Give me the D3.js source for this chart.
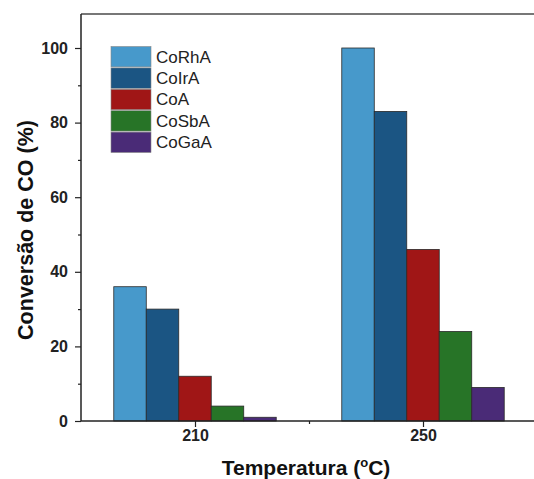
<!DOCTYPE html>
<html>
<head>
<meta charset="utf-8">
<script src="https://cdn.jsdelivr.net/npm/d3@7"></script>
<style>
  body { margin: 0; background: #fff; }
  svg { display: block; font-family: "Liberation Sans", Arial, sans-serif; }
</style>
</head>
<body>
<svg id="chart" width="534" height="479"></svg>
<script>
// Data
const temperatures = [210, 250];
const catalysts = ["CoRhA", "CoIrA", "CoA", "CoSbA", "CoGaA"];
const conv210 = [36, 30, 12, 4, 1];
const conv250 = [100, 83, 46, 24, 9];
const colors = ["#4799cb", "#1b5583", "#a01616", "#277427", "#4a2b77"];
const yTicks = [0, 20, 40, 60, 80, 100];

const seriesByTemp = [conv210, conv250];

const svg = d3.select("#chart");

// scales (linear x, like the original Origin plot)
const xScale = d3.scaleLinear().domain([210, 250]).range([195, 423]);
const yScale = d3.scaleLinear().domain([0, 100]).range([421, 48]);

const plotLeft = 81, plotBottom = 421, plotTop = yScale(109.1), plotRight = 545;
const barW = xScale(215.7) - xScale(210);

// frame top line (gray)
svg.append("line")
    .attr("x1", plotLeft).attr("x2", plotRight)
    .attr("y1", plotTop).attr("y2", plotTop)
    .attr("stroke", "#777").attr("stroke-width", 2);

// bars
temperatures.forEach((t, ti) => {
    const vals = seriesByTemp[ti];
    const start = xScale(t) - barW * catalysts.length / 2;
    vals.forEach((v, i) => {
        svg.append("rect")
            .attr("x", start + i * barW)
            .attr("y", yScale(v))
            .attr("width", barW)
            .attr("height", yScale(0) - yScale(v))
            .attr("fill", colors[i])
            .attr("stroke", "#2a2a2a")
            .attr("stroke-width", 0.8);
    });
});

// y axis
const yAxis = d3.axisLeft(yScale).tickValues(yTicks).tickSize(6).tickPadding(7);
const gy = svg.append("g").attr("transform", `translate(${plotLeft},0)`).call(yAxis);
gy.select(".domain").remove();
gy.selectAll(".tick line").attr("stroke", "#222").attr("stroke-width", 1.2);
gy.selectAll(".tick text")
    .attr("font-size", 16).attr("font-weight", "bold").attr("fill", "#222")
    .attr("font-family", "Liberation Sans, Arial, sans-serif");

// y minor ticks
const yMinor = d3.axisLeft(yScale).tickValues([10, 30, 50, 70, 90]).tickSize(3).tickFormat("");
const gym = svg.append("g").attr("transform", `translate(${plotLeft},0)`).call(yMinor);
gym.select(".domain").remove();
gym.selectAll(".tick line").attr("stroke", "#222").attr("stroke-width", 1.2);

svg.append("line")
    .attr("x1", plotLeft).attr("x2", plotLeft)
    .attr("y1", plotTop).attr("y2", plotBottom)
    .attr("stroke", "#222").attr("stroke-width", 1.5);

// x axis
const xAxis = d3.axisBottom(xScale).tickValues(temperatures).tickSize(6).tickPadding(3).tickFormat(d3.format("d"));
const gx = svg.append("g").attr("transform", `translate(0,${plotBottom})`).call(xAxis);
gx.select(".domain").remove();
gx.selectAll(".tick line").attr("stroke", "#222").attr("stroke-width", 1.2);
gx.selectAll(".tick text")
    .attr("font-size", 16).attr("font-weight", "bold").attr("fill", "#222")
    .attr("font-family", "Liberation Sans, Arial, sans-serif");

const xMinor = d3.axisBottom(xScale).tickValues([230]).tickSize(3).tickFormat("");
const gxm = svg.append("g").attr("transform", `translate(0,${plotBottom})`).call(xMinor);
gxm.select(".domain").remove();
gxm.selectAll(".tick line").attr("stroke", "#222").attr("stroke-width", 1.2);

svg.append("line")
    .attr("x1", plotLeft).attr("x2", plotRight)
    .attr("y1", plotBottom).attr("y2", plotBottom)
    .attr("stroke", "#222").attr("stroke-width", 1.5);

// axis titles
const xt = svg.append("text")
    .attr("x", 306).attr("y", 475)
    .attr("text-anchor", "middle")
    .attr("font-size", 21).attr("font-weight", "bold").attr("fill", "#111");
xt.append("tspan").text("Temperatura (");
xt.append("tspan").attr("font-size", 13).attr("dy", -8).text("o");
xt.append("tspan").attr("dy", 8).text("C)");

svg.append("text")
    .attr("transform", "translate(33,230) rotate(-90)")
    .attr("text-anchor", "middle")
    .attr("font-size", 21.5).attr("font-weight", "bold").attr("fill", "#111")
    .text("Conversão de CO (%)");

// legend
const legH = 21.4;
const leg = svg.append("g").attr("transform", "translate(111,46)");
catalysts.forEach((c, i) => {
    leg.append("rect")
        .attr("x", 0).attr("y", i * legH + 0.5)
        .attr("width", 40).attr("height", legH - 1)
        .attr("fill", colors[i])
        .attr("stroke", "#888").attr("stroke-width", 0.6);
    leg.append("text")
        .attr("x", 45).attr("y", i * legH + 16.5)
        .attr("font-size", 17).attr("fill", "#222")
        .text(c);
});
</script>
</body>
</html>
